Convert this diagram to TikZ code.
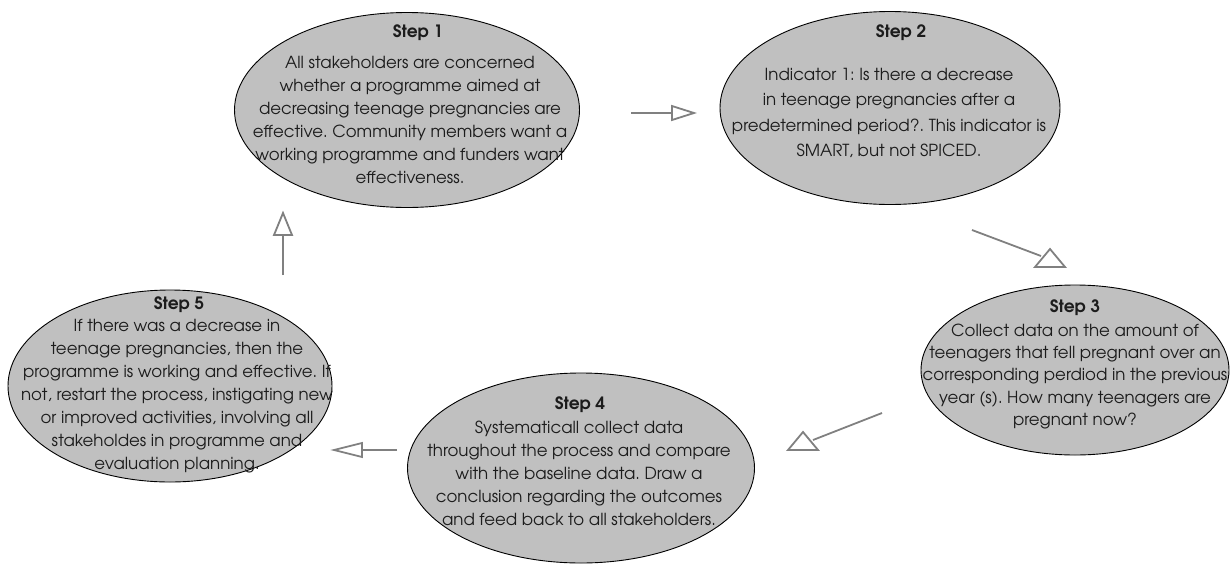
\documentclass[tikz,border=0pt]{standalone}
\usepackage{fontspec}
\setmainfont{TeX Gyre Adventor}
\usetikzlibrary{shapes.geometric}
\frenchspacing
\begin{document}
\begin{tikzpicture}[x=1pt,y=-1pt,
  stepshape/.style={ellipse, draw=black, line width=0.9pt, fill=stepgray, inner sep=0pt},
  steptitle/.style={font=\fontsize{17}{18}\selectfont\bfseries, text=txt, inner sep=0pt},
  stepbody/.style={font=\fontsize{16.6}{23}\selectfont, text=txt, align=center, inner sep=0pt},
  link/.style={draw=linkgray, line width=1.8pt},
  tip/.style={draw=linkgray, line width=1.8pt, fill=white, line join=miter}]
\definecolor{stepgray}{HTML}{C0C0C0}
\definecolor{linkgray}{HTML}{808080}
\definecolor{txt}{HTML}{1C1C1C}
\useasboundingbox (0,0) rectangle (1232,563);

% ellipses
\node[stepshape, minimum width=345pt, minimum height=195pt] (e1) at (407,110) {};
\node[stepshape, minimum width=340pt, minimum height=193pt] (e2) at (890,108) {};
\node[stepshape, minimum width=308pt, minimum height=170pt] (e3) at (1075,370) {};
\node[stepshape, minimum width=324pt, minimum height=192pt] (e5) at (170,386) {};
\node[stepshape, minimum width=347pt, minimum height=190pt] (e4) at (581,468) {};

% texts
\node[steptitle] (h1) at (418,33) {Step 1};
\node[stepbody] (b1) at (410,119.5) {All stakeholders are concerned\\
whether a programme aimed at\\
decreasing teenage pregnancies are\\
effective. Community members want a\\
working programme and funders want\\
effectiveness.};

\node[steptitle] (h2) at (901,33) {Step 2};
\node[stepbody, font=\fontsize{16.6}{25.3}\selectfont] (b2) at (889,113) {Indicator 1: Is there a decrease\\
in teenage pregnancies after a\\
predetermined period?. This indicator is\\
SMART, but not SPICED.};

\node[steptitle] (h3) at (1075,308) {Step 3};
\node[stepbody, font=\fontsize{16.6}{22.4}\selectfont] (b3) at (1075,376.5) {Collect data on the amount of\\
teenagers that fell pregnant over an\\
corresponding perdiod in the previous\\
year (s). How many teenagers are\\
pregnant now?};

\node[steptitle] (h4) at (580,405) {Step 4};
\node[stepbody] (b4) at (579,473.5) {Systematicall collect data\\
throughout the process and compare\\
with the baseline data. Draw a\\
conclusion regarding the outcomes\\
and feed back to all stakeholders.};

\node[steptitle] (h5) at (179,305) {Step 5};
\node[stepbody] (b5) at (177,396) {If there was a decrease in\\
teenage pregnancies, then the\\
programme is working and effective. If\\
not, restart the process, instigating new\\
or improved activities, involving all\\
stakeholdes in programme and\\
evaluation planning.};

% connectors
\coordinate (a1s) at (631,113); \coordinate (a1e) at (672,113);
\coordinate (a2s) at (972,230); \coordinate (a2e) at (1041,256);
\coordinate (a3s) at (882,413); \coordinate (a3e) at (813,440);
\coordinate (a4s) at (397,450); \coordinate (a4e) at (362,450);
\coordinate (a5s) at (283,275); \coordinate (a5e) at (283,235);

\draw[link] (a1s) -- (a1e);
\draw[tip] (672,106) -- (694,113) -- (672,120) -- cycle;
\draw[link] (a2s) -- (a2e);
\draw[tip] (1035,267) -- (1050,249) -- (1065,267) -- cycle;
\draw[link] (a3s) -- (a3e);
\draw[tip] (788,450) -- (803,432) -- (818,450) -- cycle;
\draw[link] (a4s) -- (a4e);
\draw[tip] (362,443) -- (334,450) -- (362,457) -- cycle;
\draw[link] (a5s) -- (a5e);
\draw[tip] (274,235) -- (283,213) -- (292,235) -- cycle;
\end{tikzpicture}
\end{document}
